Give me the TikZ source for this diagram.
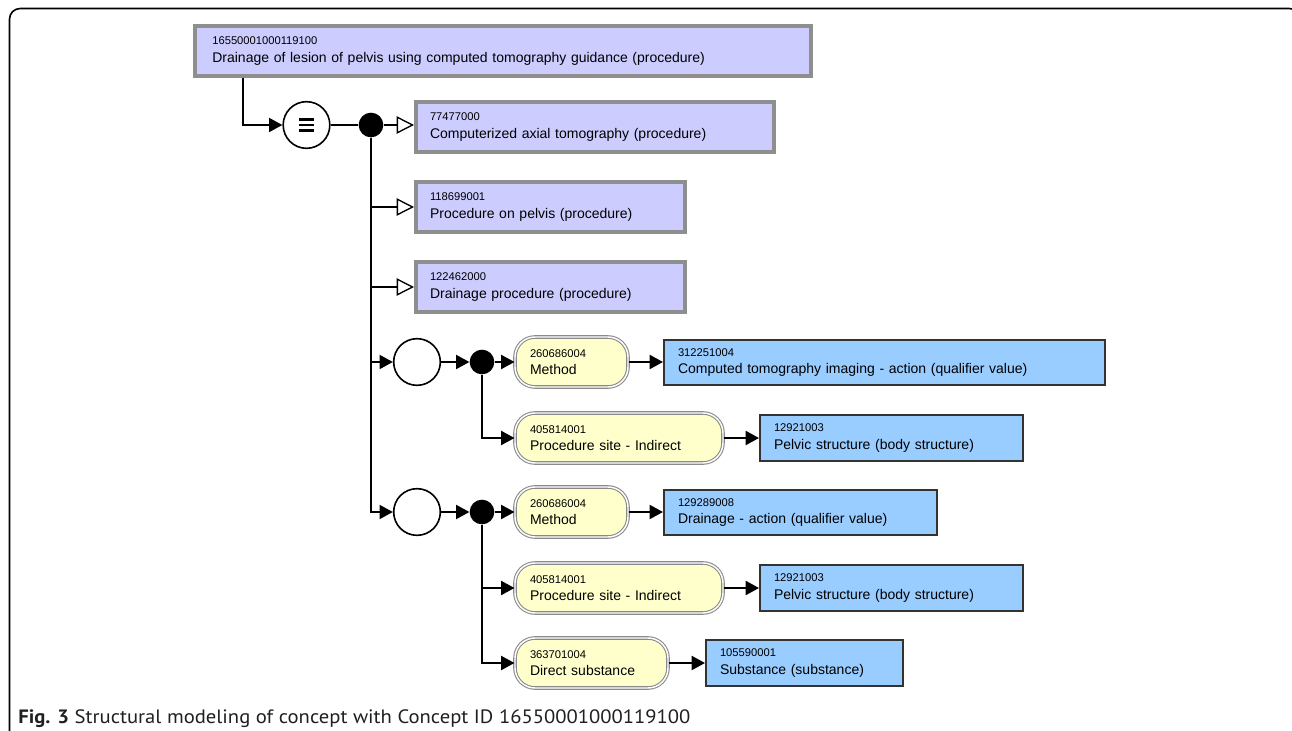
\documentclass[tikz,border=0pt]{standalone}
\usepackage{fontspec}
\setmainfont{Liberation Sans}
\newfontfamily\capfont{PT Sans}
\usetikzlibrary{arrows.meta,calc}
\definecolor{lav}{HTML}{CCCCFF}
\definecolor{lavborder}{HTML}{8E8E8E}
\definecolor{sky}{HTML}{99CCFF}
\definecolor{skyborder}{HTML}{333333}
\definecolor{cream}{HTML}{FFFFCC}
\definecolor{creamborder}{HTML}{8A8A8A}
\definecolor{captext}{HTML}{231F20}
\newcommand\cid[1]{{\fontsize{8.4}{13.25}\selectfont #1}}
\tikzset{
  mainf/.style={font=\fontsize{10.5}{13.25}\selectfont},
  conc/.style={mainf, draw=lavborder, line width=3pt, fill=lav, align=left,
    inner xsep=10.5pt, inner ysep=0pt, minimum height=37.5pt},
  val/.style={mainf, draw=skyborder, line width=1.5pt, fill=sky, align=left,
    inner xsep=10.5pt, inner ysep=0pt, minimum height=34pt},
  attr/.style={mainf, draw=creamborder, double=white, double distance=1.1pt,
    line width=0.8pt, fill=cream, rounded corners=15pt, align=left,
    inner xsep=11.25pt, inner ysep=0pt, minimum height=37.5pt},
  ring/.style={circle, draw, line width=1.2pt, fill=white, minimum size=35pt, inner sep=0pt},
  blackdot/.style={circle, fill=black, minimum size=18.5pt, inner sep=0pt},
  link/.style={line width=1.5pt},
  arr/.style={link, -{Triangle[length=10pt,width=10.5pt]}},
  oarr/.style={link, -{Triangle[open,length=13pt,width=13pt,line width=1pt,fill=white]}},
}
\begin{document}
\begin{tikzpicture}[x=0.75pt,y=-0.75pt]
\useasboundingbox (0,0) rectangle (1292,731);
\clip (0,0) rectangle (1292,731);
\fill[white] (0,0) rectangle (1292,731);
\draw[line width=1.2pt, rounded corners=8pt] (9.5,8.5) rectangle (1300,770);

% concept nodes
\node[conc, text width=436pt, inner xsep=13pt, minimum height=37pt] (top) at (503,51)
  {\cid{16550001000119100}\\Drainage of lesion of pelvis using computed tomography guidance (procedure)};
\node[ring] (eq) at (306.5,125) {};
\foreach \dy in {-5.5,0,5.5}
  \draw[line width=1.7pt] ($(eq)+(-7.5,\dy)$) -- ($(eq)+(7.5,\dy)$);
\node[blackdot] (d0) at (371,125) {};
\node[conc, text width=247.5pt] (b2) at (595,127)
  {\cid{77477000}\\Computerized axial tomography (procedure)};
\node[conc, text width=180.75pt] (b3) at (550.5,207)
  {\cid{118699001}\\Procedure on pelvis (procedure)};
\node[conc, text width=180.75pt] (b4) at (550.5,287)
  {\cid{122462000}\\Drainage procedure (procedure)};

% group 1
\node[ring] (r1) at (417,362) {};
\node[blackdot] (k1) at (482,362) {};
\node[attr, text width=62.25pt] (m1) at (571.5,362) {\cid{260686004}\\Method};
\node[val, text width=309.75pt] (v1) at (884.5,362.5)
  {\cid{312251004}\\Computed tomography imaging - action (qualifier value)};
\node[attr, text width=133.5pt] (p1) at (619,438) {\cid{405814001}\\Procedure site - Indirect};
\node[val, text width=176.25pt] (w1) at (891.5,438)
  {\cid{12921003}\\Pelvic structure (body structure)};

% group 2
\node[ring] (r2) at (417,512) {};
\node[blackdot] (k2) at (482,512) {};
\node[attr, text width=62.25pt] (m2) at (571.5,512) {\cid{260686004}\\Method};
\node[val, text width=183.75pt] (v2) at (800.5,512.5)
  {\cid{129289008}\\Drainage - action (qualifier value)};
\node[attr, text width=133.5pt] (p2) at (619,588) {\cid{405814001}\\Procedure site - Indirect};
\node[val, text width=176.25pt] (w2) at (891.5,588)
  {\cid{12921003}\\Pelvic structure (body structure)};
\node[attr, text width=92.25pt] (s2) at (591.5,663) {\cid{363701004}\\Direct substance};
\node[val, text width=126.75pt] (w3) at (804.5,663)
  {\cid{105590001}\\Substance (substance)};

% connectors
\draw[arr] ([xshift=37.5pt]top.south west) |- (eq.west);
\draw[link] (eq.east) -- (d0);
\draw[oarr] (d0) -- (d0 -| b2.west);
\draw[oarr] (d0) |- (b3.west);
\draw[oarr] (d0) |- (b4.west);
\draw[arr] (d0) |- (r1.west);
\draw[arr] (d0) |- (r2.west);

\draw[arr] (r1.east) -- (k1.west);
\draw[arr] (k1) -- (m1.west);
\draw[arr] (m1.east) -- (m1.east -| v1.west);
\draw[arr] (k1) |- (p1.west);
\draw[arr] (p1.east) -- (p1.east -| w1.west);

\draw[arr] (r2.east) -- (k2.west);
\draw[arr] (k2) -- (m2.west);
\draw[arr] (m2.east) -- (m2.east -| v2.west);
\draw[arr] (k2) |- (p2.west);
\draw[arr] (p2.east) -- (p2.east -| w2.west);
\draw[arr] (k2) |- (s2.west);
\draw[arr] (s2.east) -- (s2.east -| w3.west);

% caption
\node[anchor=base west, inner sep=0pt, text=captext] (cap) at (18,723)
  {\resizebox{504pt}{\height}{\capfont\fontsize{14.5}{17}\selectfont\textbf{Fig. 3} Structural modeling of concept with Concept ID 16550001000119100}};
\end{tikzpicture}
\end{document}
